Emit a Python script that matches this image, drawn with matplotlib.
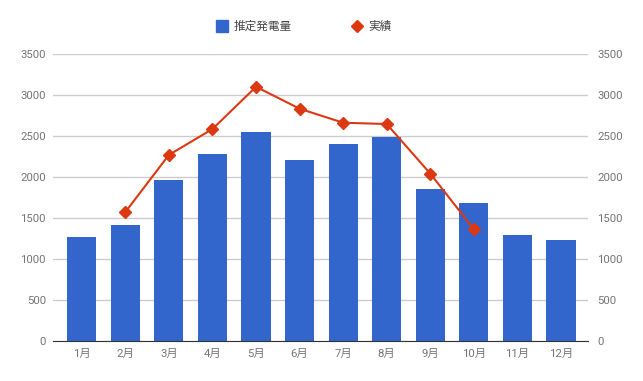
import numpy as np
import matplotlib.pyplot as plt
from matplotlib.lines import Line2D

plt.rcParams['font.family'] = ['Roboto', 'Noto Sans CJK JP', 'DejaVu Sans']

# データ
months = ['1月', '2月', '3月', '4月', '5月', '6月', '7月', '8月', '9月', '10月', '11月', '12月']
estimated = [1267, 1413, 1961, 2278, 2545, 2204, 2399, 2488, 1855, 1681, 1292, 1231]
actual = [np.nan, 1572, 2269, 2585, 3100, 2833, 2662, 2646, 2041, 1364, np.nan, np.nan]
yticks = [0, 500, 1000, 1500, 2000, 2500, 3000, 3500]

blue = '#3366cc'
red = '#dc3912'
grey = '#757575'

fig = plt.figure(figsize=(6.43, 3.81), dpi=100)
ax = fig.add_axes([53/643, 1 - 341/381, (588 - 53)/643, (341 - 54)/381])

x = np.arange(len(months))
ax.bar(x, estimated, width=0.67, color=blue, zorder=2)
ax.plot(x, actual, color=red, lw=1.5, marker='D', ms=6.5, zorder=3)

ax.set_xlim(-0.66, 11.62)
ax.set_ylim(0, 3500)
ax.set_yticks(yticks)
ax.set_xticks(x)
ax.set_xticklabels(months)
ax.grid(axis='y', color='#cccccc', lw=1, zorder=0)
for s in ['top', 'right', 'left']:
    ax.spines[s].set_visible(False)
ax.spines['bottom'].set_color('#333333')
ax.spines['bottom'].set_zorder(4)
ax.tick_params(axis='both', length=0, labelsize=8.2, labelcolor=grey)
ax.tick_params(axis='y', pad=5)
ax.tick_params(axis='x', pad=6)

# 右軸
ax2 = ax.twinx()
ax2.set_ylim(0, 3500)
ax2.set_yticks(yticks)
for s in ax2.spines.values():
    s.set_visible(False)
ax2.tick_params(axis='y', length=0, labelsize=8.2, labelcolor=grey, pad=6.5)

handles = [
    Line2D([], [], ls='none', marker='s', ms=8.6, color=blue),
    Line2D([], [], ls='none', marker='D', ms=6.5, color=red),
]
fig.legend(handles, ['推定発電量', '実績'], loc='center', bbox_to_anchor=(0.472, 0.930),
           ncol=2, frameon=False, fontsize=8.4, labelcolor='#444444',
           handletextpad=0.4, columnspacing=5.0, handlelength=1.2)

fig.savefig('out.png', dpi=100)
